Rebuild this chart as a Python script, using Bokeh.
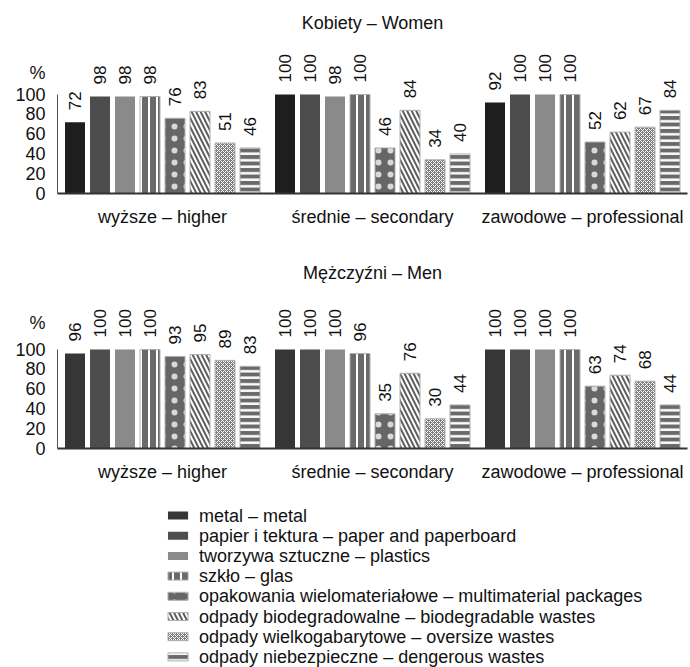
import numpy as np
from bokeh.plotting import figure
from bokeh.models import Range1d, FactorRange, FixedTicker, LinearAxis
from bokeh.layouts import column
from bokeh.transform import dodge
from bokeh.embed import file_html
from bokeh.resources import INLINE
from bokeh.core.properties import value

# ---------------- data ----------------
categories = ["wyższe – higher", "średnie – secondary", "zawodowe – professional"]
series = [
    "metal – metal",
    "papier i tektura – paper and paperboard",
    "tworzywa sztuczne – plastics",
    "szkło – glas",
    "opakowania wielomateriałowe – multimaterial packages",
    "odpady biodegradowalne – biodegradable wastes",
    "odpady wielkogabarytowe – oversize wastes",
    "odpady niebezpieczne – dengerous wastes",
]
women_higher = [72, 98, 98, 98, 76, 83, 51, 46]
women_secondary = [100, 100, 98, 100, 46, 84, 34, 40]
women_professional = [92, 100, 100, 100, 52, 62, 67, 84]
men_higher = [96, 100, 100, 100, 93, 95, 89, 83]
men_secondary = [100, 100, 100, 96, 35, 76, 30, 44]
men_professional = [100, 100, 100, 100, 63, 74, 68, 44]
y_ticks = [0, 20, 40, 60, 80, 100]
panel_titles = ["Kobiety – Women", "Mężczyźni – Men"]
unit_label = "%"

# ---------------- styles ----------------
FONT = value("Liberation Sans")
EDGE = "#b0b0b0"
STYLES = [
    dict(fill_color="#1e1e1e", line_color=None),
    dict(fill_color="#4d4d4d", line_color=None),
    dict(fill_color="#8a8a8a", line_color=None),
    dict(fill_color="#6a6a6a", line_color=EDGE, hatch_pattern="vertical_line",
         hatch_color="white", hatch_scale=8, hatch_weight=2),
    dict(fill_color="#666666", line_color=EDGE, hatch_pattern="dot",
         hatch_color="white", hatch_scale=12, hatch_weight=1, hatch_alpha=0.75),
    dict(fill_color="#5e5e5e", line_color=EDGE, hatch_pattern="left_diagonal_line",
         hatch_color="white", hatch_scale=9, hatch_weight=2),
    dict(fill_color="#7a7a7a", line_color=EDGE, hatch_pattern="diagonal_cross",
         hatch_color="white", hatch_scale=4, hatch_weight=1),
    dict(fill_color="#6a6a6a", line_color=EDGE, hatch_pattern="horizontal_line",
         hatch_color="white", hatch_scale=6.5, hatch_weight=2.5),
]
PITCH = 25 / 210.0
BAR_W = 20 / 210.0
SCALE = 0.99  # px per percent


def panel(title, groups, metal_color, frame_bottom, height):
    ymax = (frame_bottom - 5) / SCALE
    p = figure(width=690, height=height,
               x_range=FactorRange(factors=categories, range_padding=0),
               y_range=Range1d(0, ymax),
               output_backend="svg", toolbar_location=None,
               min_border_left=57, min_border_right=3, min_border_top=5,
               min_border_bottom=height - frame_bottom)
    p.outline_line_color = None
    p.grid.visible = False
    p.background_fill_color = "white"
    p.border_fill_color = "white"

    for i in range(8):
        vals = [groups[g][i] for g in range(3)]
        st = dict(STYLES[i])
        if i == 0:
            st["fill_color"] = metal_color
        src = dict(cat=categories, top=vals,
                   ly=[v + 12 / SCALE for v in vals],
                   lab=[str(v) for v in vals])
        x = dodge("cat", (i - 3.5) * PITCH, range=p.x_range)
        p.vbar(x=x, top="top", bottom=0, width=BAR_W, source=src, **st)
        p.text(x=x, y="ly", text="lab", source=src, angle=np.pi / 2,
               text_align="left", text_baseline="middle",
               text_font=FONT, text_font_size="17px", text_color="#111111")

    p.text(x=[categories[1]], y=[(frame_bottom - 22) / SCALE], text=[title],
           text_align="center", text_baseline="middle",
           text_font=FONT, text_font_size="18px", text_color="#111111")

    # axis line only (0..100), closest to the frame
    ya = p.yaxis[0]
    ya.ticker = FixedTicker(ticks=[])
    ya.bounds = (0, 100)
    ya.major_tick_out = 0
    ya.major_tick_in = 0
    ya.minor_tick_out = 0
    ya.minor_tick_in = 0
    ya.major_label_standoff = 0
    ya.axis_line_color = "#555555"
    ya.axis_line_width = 1

    # tick labels incl. the unit sign
    pct_pos = int(round((frame_bottom - 72) / SCALE))
    lab_axis = LinearAxis(ticker=FixedTicker(ticks=y_ticks + [pct_pos]),
                          major_label_overrides={pct_pos: unit_label},
                          axis_line_color=None, major_tick_out=0, major_tick_in=0,
                          minor_tick_out=0, minor_tick_in=0,
                          major_label_standoff=12,
                          major_label_text_font="Liberation Sans",
                          major_label_text_font_size="18px",
                          major_label_text_color="#111111")
    p.add_layout(lab_axis, "left")

    xa = p.xaxis[0]
    xa.major_tick_out = 0
    xa.major_tick_in = 0
    xa.major_label_standoff = 13
    xa.axis_line_color = "#333333"
    xa.axis_line_width = 2
    xa.major_label_text_font = "Liberation Sans"
    xa.major_label_text_font_size = "18px"
    xa.major_label_text_color = "#111111"
    return p


top = panel(panel_titles[0], [women_higher, women_secondary, women_professional],
            "#1e1e1e", 193, 250)
bottom = panel(panel_titles[1], [men_higher, men_secondary, men_professional],
               "#363636", 198, 250)

# ---------------- legend ----------------
LH = 167
leg = figure(width=690, height=LH, x_range=Range1d(0, 690), y_range=Range1d(LH, 0),
             output_backend="svg", toolbar_location=None,
             x_axis_location=None, y_axis_location=None,
             min_border_left=0, min_border_right=0, min_border_top=0, min_border_bottom=0)
leg.outline_line_color = None
leg.grid.visible = False
row_y = [15 + 20.2 * i for i in range(len(series))]
for i in range(len(series)):
    st = dict(STYLES[i])
    if i == 0:
        st["fill_color"] = "#363636"
    leg.rect(x=[132], y=[row_y[i]], width=22, height=8, **st)
leg.text(x=[155] * len(series), y=row_y, text=series, text_align="left",
         text_baseline="middle", text_font=FONT, text_font_size="18px",
         text_color="#111111")

layout = column(top, bottom, leg)
open("out.html", "w").write(file_html(layout, INLINE))
